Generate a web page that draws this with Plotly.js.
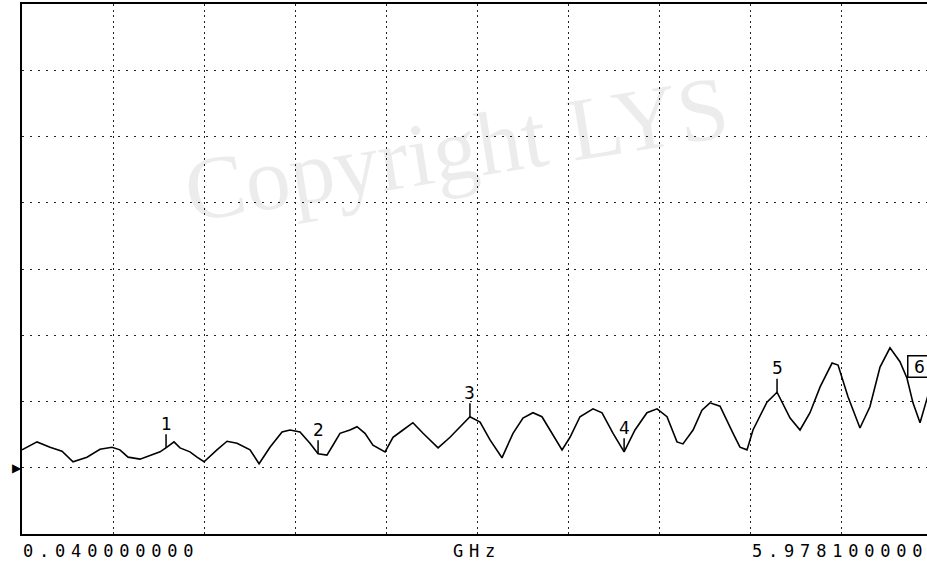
<!DOCTYPE html>
<html>
<head>
<meta charset="utf-8">
<script src="https://cdn.plot.ly/plotly-3.0.1.min.js"></script>
<style>
html,body{margin:0;padding:0;overflow:hidden;background:#fff;}
#chart{width:940px;height:562px;}
</style>
</head>
<body>
<div id="chart"></div>
<script>
// Frequency (GHz) of trace points
const freqGHz = [0.040,0.138,0.223,0.301,0.373,0.464,0.549,0.627,0.679,0.732,0.810,0.888,0.941,0.986,1.032,1.071,1.136,1.182,1.228,1.312,1.378,1.443,1.528,1.587,1.658,1.737,1.789,1.854,1.919,1.972,2.030,2.069,2.115,2.180,2.226,2.278,2.330,2.409,2.461,2.526,2.591,2.657,2.755,2.833,2.911,2.963,3.029,3.094,3.172,3.244,3.309,3.374,3.433,3.498,3.564,3.616,3.681,3.766,3.825,3.897,3.969,4.040,4.118,4.184,4.249,4.314,4.353,4.419,4.477,4.529,4.595,4.680,4.725,4.771,4.810,4.901,4.967,5.052,5.117,5.182,5.248,5.326,5.365,5.430,5.508,5.573,5.639,5.704,5.769,5.815,5.854,5.900,5.945,5.978];
// Trace level in grid divisions (0 = bottom, 8 = top)
const levelDiv = [1.27,1.39,1.31,1.25,1.09,1.16,1.28,1.31,1.27,1.16,1.13,1.19,1.24,1.31,1.39,1.30,1.24,1.16,1.09,1.27,1.40,1.37,1.27,1.06,1.31,1.54,1.57,1.54,1.37,1.21,1.19,1.34,1.52,1.57,1.62,1.52,1.34,1.24,1.46,1.57,1.68,1.52,1.30,1.46,1.65,1.77,1.69,1.42,1.15,1.52,1.75,1.83,1.77,1.52,1.27,1.46,1.77,1.89,1.83,1.52,1.24,1.57,1.83,1.89,1.77,1.39,1.36,1.57,1.87,1.98,1.93,1.52,1.31,1.27,1.57,1.99,2.14,1.75,1.57,1.83,2.22,2.58,2.55,2.07,1.60,1.92,2.52,2.81,2.60,2.35,1.98,1.68,2.02,2.30];
// Markers
const markerFreq = [0.980,1.972,2.963,3.969,4.967,5.815];
const markerLabel = ["1","2","3","4","5","6"];
// Axis labels
const startLabel = "0.040000000";
const unitLabel = "GHz";
const stopLabel = "5.978100000";
const xStart = 0.04, xStop = 5.9781;
const refLevel = 1;
const watermark = "Copyright LYS";

function interp(f){
  for(let i=0;i<freqGHz.length-1;i++){
    if(f>=freqGHz[i] && f<=freqGHz[i+1]){
      const t=(f-freqGHz[i])/(freqGHz[i+1]-freqGHz[i]);
      return levelDiv[i]+t*(levelDiv[i+1]-levelDiv[i]);
    }
  }
  return levelDiv[levelDiv.length-1];
}

const trace = {
  x: freqGHz, y: levelDiv, type:'scatter', mode:'lines',
  line:{color:'#000', width:1.6}, hoverinfo:'skip'
};

const spaced = s => '<span style="letter-spacing:5.8px">'+s+'</span>';
const mono = {family:'DejaVu Sans Mono', size:17, color:'#000'};

const annotations = [];
// watermark
annotations.push({xref:'paper', yref:'paper', x:0.478, y:0.905, text:watermark,
  showarrow:false, textangle:-9, font:{family:'Liberation Serif', size:90, color:'rgba(0,0,0,0.075)'}});
// markers
markerFreq.forEach((f,i)=>{
  const yv = interp(f);
  if(markerLabel[i]==="6"){
    annotations.push({x:f, y:yv, xref:'x', yref:'y', text:markerLabel[i], showarrow:false,
      xanchor:'left', yanchor:'bottom', bordercolor:'#000', borderwidth:1.5, borderpad:0,
      bgcolor:'#fff', font:{family:'DejaVu Sans', size:17, color:'#000'}, width:22});
  } else {
    annotations.push({x:f, y:yv, xref:'x', yref:'y', text:markerLabel[i], showarrow:true,
      arrowhead:0, arrowwidth:1.5, arrowcolor:'#000', ax:0, ay:-24, standoff:0,
      font:{family:'DejaVu Sans', size:17, color:'#000'}, borderpad:0});
  }
});
// reference arrow
annotations.push({xref:'paper', yref:'y', x:-0.0135, y:refLevel, text:'▶', showarrow:false,
  font:{family:'DejaVu Sans', size:12, color:'#000'}});
// bottom labels
annotations.push({xref:'paper', yref:'paper', x:0, y:-0.032, xanchor:'left', yanchor:'middle',
  text:spaced(startLabel), showarrow:false, font:mono, borderpad:0});
annotations.push({xref:'paper', yref:'paper', x:(452-22)/910, y:-0.032, xanchor:'left', yanchor:'middle',
  text:spaced(unitLabel), showarrow:false, font:mono, borderpad:0});
annotations.push({xref:'paper', yref:'paper', x:(751-22)/910, y:-0.032, xanchor:'left', yanchor:'middle',
  text:spaced(stopLabel), showarrow:false, font:mono, borderpad:0});

const layout = {
  width:940, height:562,
  margin:{l:22, r:8, t:4, b:28},
  paper_bgcolor:'#fff', plot_bgcolor:'#fff',
  showlegend:false,
  xaxis:{range:[xStart,xStop], tick0:xStart, dtick:(xStop-xStart)/10, showticklabels:false,
    ticks:'', showgrid:true, gridcolor:'#222', gridwidth:1, griddash:'2px,3.5px',
    showline:true, mirror:true, linecolor:'#000', linewidth:2, zeroline:false, fixedrange:true},
  yaxis:{range:[0,8], tick0:0, dtick:1, showticklabels:false, ticks:'',
    showgrid:true, gridcolor:'#222', gridwidth:1, griddash:'2px,6px',
    showline:true, mirror:true, linecolor:'#000', linewidth:2, zeroline:false, fixedrange:true},
  annotations: annotations
};

Plotly.newPlot('chart', [trace], layout, {displayModeBar:false, staticPlot:true});
</script>
</body>
</html>
